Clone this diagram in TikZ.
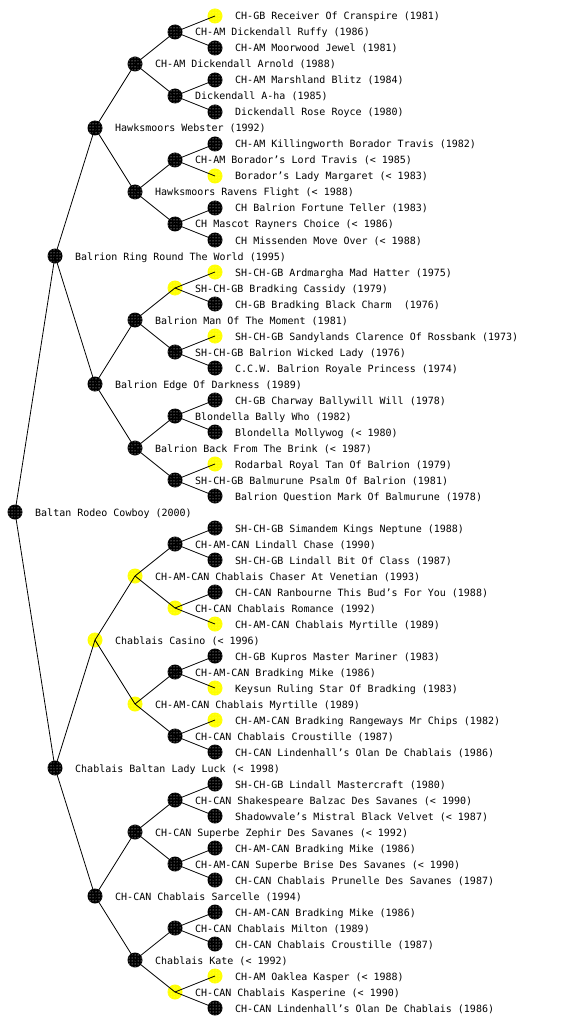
\documentclass[tikz,border=0pt]{standalone}
\usepackage{fontspec}
\setmonofont{DejaVu Sans Mono}
\usetikzlibrary{patterns}
\definecolor{nodeyellow}{RGB}{255,255,0}
\tikzset{
  darknode/.style={circle, minimum size=15pt, inner sep=0pt, fill=black,
    postaction={pattern=dots, pattern color=white}},
  yellownode/.style={circle, minimum size=15pt, inner sep=0pt, fill=nodeyellow,
    postaction={pattern=dots, pattern color=nodeyellow!50!white}},
  lbl/.style={anchor=base west, inner sep=0pt, font=\ttfamily\fontsize{10}{12}\selectfont},
  link/.style={draw=black, line width=0.8pt}
}
\newcommand\pn[5]{%
  \node[#4] (n#1) at (#2,#3) {};
  \node[lbl] (t#1) at (#2+20,#3+4) {#5};
}
\begin{document}
\begin{tikzpicture}[x=1pt,y=-1pt]
\useasboundingbox (0,0) rectangle (560,1024);
\fill[white] (0,0) rectangle (560,1024);
\pn{0}{215}{16}{yellownode}{CH-GB Receiver Of Cranspire (1981)}
\pn{1}{175}{32}{darknode}{CH-AM Dickendall Ruffy (1986)}
\pn{2}{215}{48}{darknode}{CH-AM Moorwood Jewel (1981)}
\pn{3}{135}{64}{darknode}{CH-AM Dickendall Arnold (1988)}
\pn{4}{215}{80}{darknode}{CH-AM Marshland Blitz (1984)}
\pn{5}{175}{96}{darknode}{Dickendall A-ha (1985)}
\pn{6}{215}{112}{darknode}{Dickendall Rose Royce (1980)}
\pn{7}{95}{128}{darknode}{Hawksmoors Webster (1992)}
\pn{8}{215}{144}{darknode}{CH-AM Killingworth Borador Travis (1982)}
\pn{9}{175}{160}{darknode}{CH-AM Borador’s Lord Travis (< 1985)}
\pn{10}{215}{176}{yellownode}{Borador’s Lady Margaret (< 1983)}
\pn{11}{135}{192}{darknode}{Hawksmoors Ravens Flight (< 1988)}
\pn{12}{215}{208}{darknode}{CH Balrion Fortune Teller (1983)}
\pn{13}{175}{224}{darknode}{CH Mascot Rayners Choice (< 1986)}
\pn{14}{215}{240}{darknode}{CH Missenden Move Over (< 1988)}
\pn{15}{55}{256}{darknode}{Balrion Ring Round The World (1995)}
\pn{16}{215}{272}{yellownode}{SH-CH-GB Ardmargha Mad Hatter (1975)}
\pn{17}{175}{288}{yellownode}{SH-CH-GB Bradking Cassidy (1979)}
\pn{18}{215}{304}{darknode}{CH-GB Bradking Black Charm \ (1976)}
\pn{19}{135}{320}{darknode}{Balrion Man Of The Moment (1981)}
\pn{20}{215}{336}{yellownode}{SH-CH-GB Sandylands Clarence Of Rossbank (1973)}
\pn{21}{175}{352}{darknode}{SH-CH-GB Balrion Wicked Lady (1976)}
\pn{22}{215}{368}{darknode}{C.C.W. Balrion Royale Princess (1974)}
\pn{23}{95}{384}{darknode}{Balrion Edge Of Darkness (1989)}
\pn{24}{215}{400}{darknode}{CH-GB Charway Ballywill Will (1978)}
\pn{25}{175}{416}{darknode}{Blondella Bally Who (1982)}
\pn{26}{215}{432}{darknode}{Blondella Mollywog (< 1980)}
\pn{27}{135}{448}{darknode}{Balrion Back From The Brink (< 1987)}
\pn{28}{215}{464}{yellownode}{Rodarbal Royal Tan Of Balrion (1979)}
\pn{29}{175}{480}{darknode}{SH-CH-GB Balmurune Psalm Of Balrion (1981)}
\pn{30}{215}{496}{darknode}{Balrion Question Mark Of Balmurune (1978)}
\pn{31}{15}{512}{darknode}{Baltan Rodeo Cowboy (2000)}
\pn{32}{215}{528}{darknode}{SH-CH-GB Simandem Kings Neptune (1988)}
\pn{33}{175}{544}{darknode}{CH-AM-CAN Lindall Chase (1990)}
\pn{34}{215}{560}{darknode}{SH-CH-GB Lindall Bit Of Class (1987)}
\pn{35}{135}{576}{yellownode}{CH-AM-CAN Chablais Chaser At Venetian (1993)}
\pn{36}{215}{592}{darknode}{CH-CAN Ranbourne This Bud’s For You (1988)}
\pn{37}{175}{608}{yellownode}{CH-CAN Chablais Romance (1992)}
\pn{38}{215}{624}{yellownode}{CH-AM-CAN Chablais Myrtille (1989)}
\pn{39}{95}{640}{yellownode}{Chablais Casino (< 1996)}
\pn{40}{215}{656}{darknode}{CH-GB Kupros Master Mariner (1983)}
\pn{41}{175}{672}{darknode}{CH-AM-CAN Bradking Mike (1986)}
\pn{42}{215}{688}{yellownode}{Keysun Ruling Star Of Bradking (1983)}
\pn{43}{135}{704}{yellownode}{CH-AM-CAN Chablais Myrtille (1989)}
\pn{44}{215}{720}{yellownode}{CH-AM-CAN Bradking Rangeways Mr Chips (1982)}
\pn{45}{175}{736}{darknode}{CH-CAN Chablais Croustille (1987)}
\pn{46}{215}{752}{darknode}{CH-CAN Lindenhall’s Olan De Chablais (1986)}
\pn{47}{55}{768}{darknode}{Chablais Baltan Lady Luck (< 1998)}
\pn{48}{215}{784}{darknode}{SH-CH-GB Lindall Mastercraft (1980)}
\pn{49}{175}{800}{darknode}{CH-CAN Shakespeare Balzac Des Savanes (< 1990)}
\pn{50}{215}{816}{darknode}{Shadowvale’s Mistral Black Velvet (< 1987)}
\pn{51}{135}{832}{darknode}{CH-CAN Superbe Zephir Des Savanes (< 1992)}
\pn{52}{215}{848}{darknode}{CH-AM-CAN Bradking Mike (1986)}
\pn{53}{175}{864}{darknode}{CH-AM-CAN Superbe Brise Des Savanes (< 1990)}
\pn{54}{215}{880}{darknode}{CH-CAN Chablais Prunelle Des Savanes (1987)}
\pn{55}{95}{896}{darknode}{CH-CAN Chablais Sarcelle (1994)}
\pn{56}{215}{912}{darknode}{CH-AM-CAN Bradking Mike (1986)}
\pn{57}{175}{928}{darknode}{CH-CAN Chablais Milton (1989)}
\pn{58}{215}{944}{darknode}{CH-CAN Chablais Croustille (1987)}
\pn{59}{135}{960}{darknode}{Chablais Kate (< 1992)}
\pn{60}{215}{976}{yellownode}{CH-AM Oaklea Kasper (< 1988)}
\pn{61}{175}{992}{yellownode}{CH-CAN Chablais Kasperine (< 1990)}
\pn{62}{215}{1008}{darknode}{CH-CAN Lindenhall’s Olan De Chablais (1986)}
\foreach \p/\c in {31/15,31/47,15/7,15/23,47/39,47/55,
  7/3,7/11,23/19,23/27,39/35,39/43,55/51,55/59,
  3/1,3/5,11/9,11/13,19/17,19/21,27/25,27/29,
  35/33,35/37,43/41,43/45,51/49,51/53,59/57,59/61,
  1/0,1/2,5/4,5/6,9/8,9/10,13/12,13/14,
  17/16,17/18,21/20,21/22,25/24,25/26,29/28,29/30,
  33/32,33/34,37/36,37/38,41/40,41/42,45/44,45/46,
  49/48,49/50,53/52,53/54,57/56,57/58,61/60,61/62}
  \draw[link] (n\p.center) -- (n\c.center);
\end{tikzpicture}
\end{document}
